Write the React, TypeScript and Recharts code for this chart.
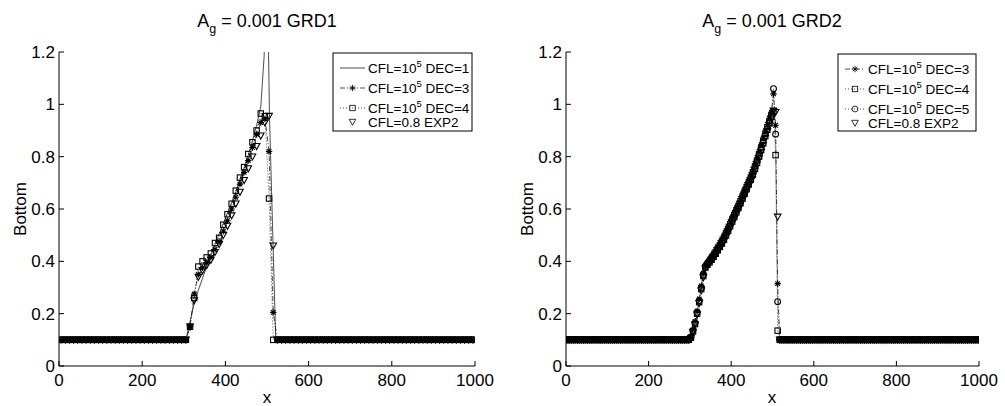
import React from 'react';
import { LineChart, Line, XAxis, YAxis } from 'recharts';

const FONT = '"Liberation Sans", Arial, Helvetica, sans-serif';
const W = 1005;
const H = 406;

// ---------- axes ----------
const xTicks = [0, 200, 400, 600, 800, 1000];
const yTicks = [0, 0.2, 0.4, 0.6, 0.8, 1, 1.2];

// ---------- GRD1 (cell centres 5, 15, ..., 995) ----------
const grd1X = Array.from({ length: 100 }, (_, i) => 5 + 10 * i);
const grd1Left = [
  0.1, 0.1, 0.1, 0.1, 0.1, 0.1, 0.1, 0.1, 0.1, 0.1,
  0.1, 0.1, 0.1, 0.1, 0.1, 0.1, 0.1, 0.1, 0.1, 0.1,
  0.1, 0.1, 0.1, 0.1, 0.1, 0.1, 0.1, 0.1, 0.1, 0.1,
];
const grd1Right = [
  0.1, 0.1, 0.1, 0.1, 0.1, 0.1, 0.1, 0.1, 0.1, 0.1,
  0.1, 0.1, 0.1, 0.1, 0.1, 0.1, 0.1, 0.1, 0.1, 0.1,
  0.1, 0.1, 0.1, 0.1, 0.1, 0.1, 0.1, 0.1, 0.1, 0.1,
  0.1, 0.1, 0.1, 0.1, 0.1, 0.1, 0.1, 0.1, 0.1, 0.1,
  0.1, 0.1, 0.1, 0.1, 0.1, 0.1, 0.1, 0.1,
];
// x = 305 ... 515
const grd1Dec3Mid = [
  0.1, 0.15, 0.275, 0.35, 0.375, 0.395, 0.415, 0.445, 0.475, 0.515,
  0.555, 0.6, 0.645, 0.695, 0.74, 0.785, 0.835, 0.885, 0.93, 0.945,
  0.82, 0.205,
];
const grd1Dec4Mid = [
  0.1, 0.15, 0.26, 0.38, 0.4, 0.415, 0.43, 0.47, 0.49, 0.54,
  0.58, 0.62, 0.67, 0.72, 0.76, 0.81, 0.855, 0.9, 0.965, 0.955,
  0.64, 0.1,
];
const grd1Exp2Mid = [
  0.1, 0.15, 0.25, 0.34, 0.365, 0.385, 0.405, 0.435, 0.465, 0.5,
  0.535, 0.575, 0.62, 0.665, 0.71, 0.755, 0.8, 0.84, 0.88, 0.93,
  0.955, 0.46,
];
const grd1Dec3 = [...grd1Left, ...grd1Dec3Mid, ...grd1Right];
const grd1Dec4 = [...grd1Left, ...grd1Dec4Mid, ...grd1Right];
const grd1Exp2 = [...grd1Left, ...grd1Exp2Mid, ...grd1Right];
// DEC=1 solid line (no markers)
const grd1Dec1X = [0, 305, 315, 325, 335, 345, 355, 365, 375, 385, 395, 405, 415, 425, 435, 445, 455, 465, 475, 485, 493, 500, 506, 521, 1000];
const grd1Dec1Y = [0.1, 0.1, 0.17, 0.24, 0.29, 0.335, 0.38, 0.425, 0.465, 0.505, 0.545, 0.585, 0.625, 0.665, 0.71, 0.755, 0.805, 0.86, 0.92, 0.99, 1.18, 1.6, 0.95, 0.1, 0.1];

// ---------- GRD2 (cell centres 2.5, 7.5, ..., 997.5) ----------
const grd2X = Array.from({ length: 200 }, (_, i) => 2.5 + 5 * i);
const grd2Left = [
  0.1, 0.1, 0.1, 0.1, 0.1, 0.1, 0.1, 0.1, 0.1, 0.1,
  0.1, 0.1, 0.1, 0.1, 0.1, 0.1, 0.1, 0.1, 0.1, 0.1,
  0.1, 0.1, 0.1, 0.1, 0.1, 0.1, 0.1, 0.1, 0.1, 0.1,
  0.1, 0.1, 0.1, 0.1, 0.1, 0.1, 0.1, 0.1, 0.1, 0.1,
  0.1, 0.1, 0.1, 0.1, 0.1, 0.1, 0.1, 0.1, 0.1, 0.1,
  0.1, 0.1, 0.1, 0.1, 0.1, 0.1, 0.1, 0.1, 0.1, 0.1,
];
// x = 302.5 ... 497.5
const grd2Dec3Rise = [
  0.112, 0.138, 0.17, 0.21, 0.256, 0.306, 0.355, 0.383, 0.397, 0.408,
  0.42, 0.432, 0.445, 0.458, 0.472, 0.486, 0.5, 0.517, 0.534, 0.552,
  0.57, 0.587, 0.605, 0.622, 0.64, 0.658, 0.676, 0.694, 0.712, 0.731,
  0.751, 0.773, 0.796, 0.82, 0.845, 0.871, 0.898, 0.923, 0.947, 0.97,
];
const grd2Dec4Rise = [
  0.108, 0.132, 0.16, 0.2, 0.244, 0.294, 0.344, 0.376, 0.387, 0.396,
  0.406, 0.417, 0.429, 0.442, 0.455, 0.468, 0.482, 0.499, 0.516, 0.534,
  0.552, 0.569, 0.587, 0.604, 0.622, 0.64, 0.658, 0.676, 0.694, 0.712,
  0.731, 0.753, 0.776, 0.8, 0.825, 0.851, 0.878, 0.903, 0.927, 0.952,
];
const grd2Dec5Rise = [
  0.11, 0.135, 0.165, 0.205, 0.25, 0.3, 0.35, 0.38, 0.392, 0.402,
  0.413, 0.424, 0.437, 0.45, 0.463, 0.477, 0.491, 0.508, 0.525, 0.543,
  0.561, 0.578, 0.596, 0.613, 0.631, 0.649, 0.667, 0.685, 0.703, 0.721,
  0.741, 0.763, 0.786, 0.81, 0.835, 0.861, 0.888, 0.913, 0.937, 0.962,
];
const grd2Exp2Rise = [
  0.106, 0.13, 0.158, 0.196, 0.24, 0.288, 0.338, 0.372, 0.384, 0.393,
  0.403, 0.413, 0.425, 0.437, 0.45, 0.463, 0.477, 0.493, 0.51, 0.528,
  0.546, 0.563, 0.581, 0.598, 0.616, 0.634, 0.652, 0.67, 0.688, 0.706,
  0.725, 0.746, 0.769, 0.793, 0.818, 0.844, 0.871, 0.897, 0.921, 0.946,
];
const grd2Right = [
  0.1, 0.1, 0.1, 0.1, 0.1, 0.1, 0.1, 0.1, 0.1, 0.1,
  0.1, 0.1, 0.1, 0.1, 0.1, 0.1, 0.1, 0.1, 0.1, 0.1,
  0.1, 0.1, 0.1, 0.1, 0.1, 0.1, 0.1, 0.1, 0.1, 0.1,
  0.1, 0.1, 0.1, 0.1, 0.1, 0.1, 0.1, 0.1, 0.1, 0.1,
  0.1, 0.1, 0.1, 0.1, 0.1, 0.1, 0.1, 0.1, 0.1, 0.1,
  0.1, 0.1, 0.1, 0.1, 0.1, 0.1, 0.1, 0.1, 0.1, 0.1,
  0.1, 0.1, 0.1, 0.1, 0.1, 0.1, 0.1, 0.1, 0.1, 0.1,
  0.1, 0.1, 0.1, 0.1, 0.1, 0.1, 0.1, 0.1, 0.1, 0.1,
  0.1, 0.1, 0.1, 0.1, 0.1, 0.1, 0.1, 0.1, 0.1, 0.1,
  0.1, 0.1, 0.1, 0.1, 0.1, 0.1, 0.1,
];
// x = 502.5, 507.5, 512.5
const grd2Dec3Peak = [1.04, 0.92, 0.315];
const grd2Dec4Peak = [0.975, 0.806, 0.135];
const grd2Dec5Peak = [1.06, 0.886, 0.246];
const grd2Exp2Peak = [0.975, 0.97, 0.57];
const grd2Dec3 = [...grd2Left, ...grd2Dec3Rise, ...grd2Dec3Peak, ...grd2Right];
const grd2Dec4 = [...grd2Left, ...grd2Dec4Rise, ...grd2Dec4Peak, ...grd2Right];
const grd2Dec5 = [...grd2Left, ...grd2Dec5Rise, ...grd2Dec5Peak, ...grd2Right];
const grd2Exp2 = [...grd2Left, ...grd2Exp2Rise, ...grd2Exp2Peak, ...grd2Right];

const pts = (xs: number[], ys: number[]) => xs.map((x, i) => ({ x, y: ys[i] }));

// ---------- marks ----------
type Kind = 'star' | 'square' | 'circle' | 'tri' | null;

function MarkerShape({ kind, cx, cy, sw = 1.1 }: { kind: Kind; cx: number; cy: number; sw?: number }) {
  if (kind === 'star') {
    const s = 3.2;
    const d = 2.3;
    return (
      <path
        d={`M${cx - s},${cy}H${cx + s}M${cx},${cy - s}V${cy + s}M${cx - d},${cy - d}L${cx + d},${cy + d}M${cx - d},${cy + d}L${cx + d},${cy - d}`}
        stroke="#000"
        strokeWidth={sw}
        fill="none"
      />
    );
  }
  if (kind === 'square')
    return <rect x={cx - 2.7} y={cy - 2.7} width={5.4} height={5.4} stroke="#000" strokeWidth={sw} fill="none" />;
  if (kind === 'circle') return <circle cx={cx} cy={cy} r={2.9} stroke="#000" strokeWidth={sw} fill="none" />;
  if (kind === 'tri')
    return (
      <path
        d={`M${cx - 3.3},${cy - 2.7}L${cx + 3.3},${cy - 2.7}L${cx},${cy + 3.3}Z`}
        stroke="#000"
        strokeWidth={sw}
        fill="none"
      />
    );
  return null;
}

const makeDot = (kind: Kind) => (p: any) => {
  const { cx, cy, index } = p;
  if (cx == null || cy == null || !Number.isFinite(cx) || !Number.isFinite(cy)) return <g key={`${kind}-${index}`} />;
  return (
    <g key={`${kind}-${index}`}>
      <MarkerShape kind={kind} cx={cx} cy={cy} />
    </g>
  );
};

const DASHDOT = '5 2 1 2';
const DOTTED = '1 2';

type Series = {
  name: string;
  data: { x: number; y: number }[];
  kind: Kind;
  dash?: string;
  line: boolean;
};

const leftSeries: Series[] = [
  { name: 'dec1', data: pts(grd1Dec1X, grd1Dec1Y), kind: null, line: true },
  { name: 'dec3', data: pts(grd1X, grd1Dec3), kind: 'star', dash: DASHDOT, line: true },
  { name: 'dec4', data: pts(grd1X, grd1Dec4), kind: 'square', dash: DOTTED, line: true },
  { name: 'exp2', data: pts(grd1X, grd1Exp2), kind: 'tri', line: false },
];

const rightSeries: Series[] = [
  { name: 'dec3', data: pts(grd2X, grd2Dec3), kind: 'star', dash: DASHDOT, line: true },
  { name: 'dec4', data: pts(grd2X, grd2Dec4), kind: 'square', dash: DOTTED, line: true },
  { name: 'dec5', data: pts(grd2X, grd2Dec5), kind: 'circle', dash: DOTTED, line: true },
  { name: 'exp2', data: pts(grd2X, grd2Exp2), kind: 'tri', line: false },
];

// ---------- ticks (MATLAB style: inward) ----------
const tickFont = { fontFamily: FONT, fontSize: 17, fill: '#000' };
const fmt = (v: number) => String(v);

const BottomTick = (p: any) => (
  <g>
    <line x1={p.x} x2={p.x} y1={p.y} y2={p.y - 5} stroke="#000" strokeWidth={1} />
    <text x={p.x} y={p.y + 20} textAnchor="middle" {...tickFont}>
      {fmt(p.payload.value)}
    </text>
  </g>
);
const TopTick = (p: any) => (
  <line x1={p.x} x2={p.x} y1={p.y} y2={p.y + 5} stroke="#000" strokeWidth={1} />
);
const LeftTick = (p: any) => (
  <g>
    <line x1={p.x} x2={p.x + 5} y1={p.y} y2={p.y} stroke="#000" strokeWidth={1} />
    <text x={p.x - 4} y={p.y + 6} textAnchor="end" {...tickFont}>
      {fmt(p.payload.value)}
    </text>
  </g>
);
const RightTick = (p: any) => (
  <line x1={p.x - 5} x2={p.x} y1={p.y} y2={p.y} stroke="#000" strokeWidth={1} />
);

function Panel({ left, width, margin, series }: { left: number; width: number; margin: any; series: Series[] }) {
  return (
    <div style={{ position: 'absolute', left, top: 0 }}>
      <LineChart width={width} height={H} margin={margin}>
        <XAxis
          xAxisId="b"
          type="number"
          dataKey="x"
          domain={[0, 1000]}
          ticks={xTicks}
          allowDataOverflow
          height={30}
          interval={0}
          tickSize={0}
          tickMargin={0}
          tickLine={false}
          tick={BottomTick}
          axisLine={{ stroke: '#000', strokeWidth: 1 }}
        />
        <XAxis
          xAxisId="t"
          orientation="top"
          type="number"
          dataKey="x"
          domain={[0, 1000]}
          ticks={xTicks}
          allowDataOverflow
          height={0}
          interval={0}
          tickSize={0}
          tickMargin={0}
          tickLine={false}
          tick={TopTick}
          axisLine={{ stroke: '#000', strokeWidth: 1 }}
        />
        <YAxis
          yAxisId="l"
          type="number"
          domain={[0, 1.2]}
          ticks={yTicks}
          allowDataOverflow
          width={50}
          interval={0}
          tickSize={0}
          tickMargin={0}
          tickLine={false}
          tick={LeftTick}
          axisLine={{ stroke: '#000', strokeWidth: 1 }}
        />
        <YAxis
          yAxisId="r"
          orientation="right"
          type="number"
          domain={[0, 1.2]}
          ticks={yTicks}
          allowDataOverflow
          width={0}
          interval={0}
          tickSize={0}
          tickMargin={0}
          tickLine={false}
          tick={RightTick}
          axisLine={{ stroke: '#000', strokeWidth: 1 }}
        />
        {series.map((s) => (
          <Line
            key={s.name}
            xAxisId="b"
            yAxisId="l"
            data={s.data}
            dataKey="y"
            type="linear"
            stroke={s.line ? '#000' : 'none'}
            strokeWidth={0.7}
            strokeDasharray={s.dash}
            dot={s.kind ? makeDot(s.kind) : false}
            activeDot={false}
            isAnimationActive={false}
            legendType="none"
          />
        ))}
      </LineChart>
    </div>
  );
}

// ---------- legend (drawn as SVG) ----------
type LegendRow = { kind: Kind; dash?: string; line: boolean; label: string; sup?: string; rest?: string; cy: number };

function LegendBox({ x, y, w, h, textX, rows }: { x: number; y: number; w: number; h: number; textX: number; rows: LegendRow[] }) {
  return (
    <g>
      <rect x={x} y={y} width={w} height={h} fill="#fff" stroke="#000" strokeWidth={1} />
      {rows.map((r, i) => {
        const cy = y + r.cy;
        const lx1 = x + 7;
        const lx2 = textX - 3;
        const mx = (lx1 + lx2) / 2;
        return (
          <g key={i}>
            {r.line && (
              <line x1={lx1} x2={lx2} y1={cy} y2={cy} stroke="#000" strokeWidth={0.7} strokeDasharray={r.dash} />
            )}
            {r.kind && <MarkerShape kind={r.kind} cx={mx} cy={cy} sw={0.8} />}
            <text x={textX} y={cy + 5} fontFamily={FONT} fontSize={13.5} fill="#000">
              {r.label}
              {r.sup && (
                <>
                  <tspan dy={-6} fontSize={9.5}>
                    {r.sup}
                  </tspan>
                  <tspan dy={6}>{r.rest}</tspan>
                </>
              )}
            </text>
          </g>
        );
      })}
    </g>
  );
}

const leftLegend = [
  { kind: null, line: true, label: 'CFL=10', sup: '5', rest: ' DEC=1', cy: 15 },
  { kind: 'star', dash: DASHDOT, line: true, label: 'CFL=10', sup: '5', rest: ' DEC=3', cy: 35 },
  { kind: 'square', dash: DOTTED, line: true, label: 'CFL=10', sup: '5', rest: ' DEC=4', cy: 55 },
  { kind: 'tri', line: false, label: 'CFL=0.8 EXP2', cy: 69 },
] as LegendRow[];

const rightLegend = [
  { kind: 'star', dash: DASHDOT, line: true, label: 'CFL=10', sup: '5', rest: ' DEC=3', cy: 15 },
  { kind: 'square', dash: DOTTED, line: true, label: 'CFL=10', sup: '5', rest: ' DEC=4', cy: 35 },
  { kind: 'circle', dash: DOTTED, line: true, label: 'CFL=10', sup: '5', rest: ' DEC=5', cy: 55 },
  { kind: 'tri', line: false, label: 'CFL=0.8 EXP2', cy: 69 },
] as LegendRow[];

function Title({ cx, label }: { cx: number; label: string }) {
  return (
    <text x={cx} y={27} textAnchor="middle" fontFamily={FONT} fontSize={18} fill="#000">
      A
      <tspan dy={6} fontSize={12.5}>
        g
      </tspan>
      <tspan dy={-6}>{` = 0.001 ${label}`}</tspan>
    </text>
  );
}

export default function App() {
  return (
    <div style={{ position: 'absolute', left: 0, top: 0, width: W, height: H, background: '#fff', overflow: 'hidden' }}>
      <Panel left={0} width={500} margin={{ top: 52, right: 25, bottom: 10, left: 9 }} series={leftSeries} />
      <Panel left={500} width={505} margin={{ top: 52, right: 26, bottom: 10, left: 16 }} series={rightSeries} />
      <svg width={W} height={H} style={{ position: 'absolute', left: 0, top: 0, pointerEvents: 'none' }}>
        <Title cx={267} label="GRD1" />
        <Title cx={772} label="GRD2" />
        <text x={267} y={403} textAnchor="middle" fontFamily={FONT} fontSize={17} fill="#000">
          x
        </text>
        <text x={772} y={403} textAnchor="middle" fontFamily={FONT} fontSize={17} fill="#000">
          x
        </text>
        <text x={26} y={209} transform="rotate(-90 26 209)" textAnchor="middle" fontFamily={FONT} fontSize={17} fill="#000">
          Bottom
        </text>
        <text x={533} y={209} transform="rotate(-90 533 209)" textAnchor="middle" fontFamily={FONT} fontSize={17} fill="#000">
          Bottom
        </text>
        <LegendBox x={333} y={53} w={139} h={78} textX={368} rows={leftLegend} />
        <LegendBox x={838} y={54} w={138} h={77} textX={868} rows={rightLegend} />
      </svg>
    </div>
  );
}
